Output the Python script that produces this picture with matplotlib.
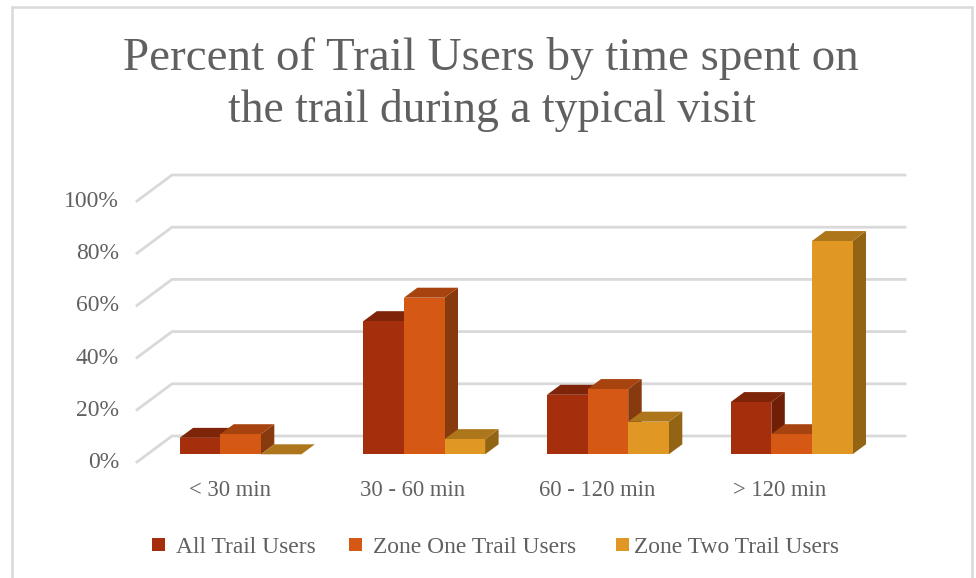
import matplotlib
matplotlib.use("Agg")
import matplotlib.pyplot as plt
from matplotlib.patches import Polygon, Rectangle

plt.rcParams['font.family'] = ['Liberation Serif', 'DejaVu Serif']

categories = ["< 30 min", "30 - 60 min", "60 - 120 min", "> 120 min"]
series_names = ["All Trail Users", "Zone One Trail Users", "Zone Two Trail Users"]
all_users = [6.3, 51, 22.8, 20]
zone_one = [7.7, 60, 25, 7.7]
zone_two = [0, 5.8, 12.5, 81.7]
yticks = [0, 20, 40, 60, 80, 100]

front_cols = ["#A52E0C", "#D55815", "#E09724"]
top_cols = ["#7E2408", "#A6430F", "#AD761B"]
side_cols = ["#6E1F06", "#873A0D", "#936414"]
text_col = "#606060"

W, H = 976, 578
fig = plt.figure(figsize=(W / 100, H / 100), dpi=100)

# whole figure is one axes, scaled so that x = category number and y = percent
px_cat = 183.7
px_pct = 2.61
x0_px = 240.5
y0_px = 454.3
ax = fig.add_axes([0, 0, 1, 1])
ax.set_xlim(-x0_px / px_cat, (W - x0_px) / px_cat)
ax.set_ylim((y0_px - H) / px_pct, y0_px / px_pct)
ax.axis("off")

def X(px):
    return (px - x0_px) / px_cat

def Y(px):
    return (y0_px - px) / px_pct

# chart frame, its bottom edge is cut off by the picture
ax.plot([X(12), X(12), X(972), X(972)], [Y(585), Y(7), Y(7), Y(585)],
        color="#D9D9D9", lw=1.8, zorder=0, solid_joinstyle="miter")

# floor and grid lines run from the front left corner to the back wall
for v in yticks:
    ax.plot([X(137), X(172), X(905)],
            [Y(462) + v, Y(436) + v, Y(436) + v],
            color="#D9D9D9", lw=2, zorder=1, solid_joinstyle="miter")
    ax.text(X(119), Y(462.5) + v, "%d%%" % v, ha="right", va="center",
            fontsize=17, color=text_col)

bar_w = 40.6 / px_cat
dx = 13.5 / px_cat
dy = 10 / px_pct
values = [all_users, zone_one, zone_two]

z = 2
for i in range(len(categories)):
    for s in range(3):
        v = values[s][i]
        left = i + (s - 1.5) * bar_w
        right = left + bar_w
        ax.add_patch(Polygon([(right, 0), (right + dx, dy), (right + dx, v + dy), (right, v)],
                             fc=side_cols[s], ec="none", zorder=z))
        ax.add_patch(Polygon([(left, v), (right, v), (right + dx, v + dy), (left + dx, v + dy)],
                             fc=top_cols[s], ec="none", zorder=z))
        ax.add_patch(Rectangle((left, 0), bar_w, v, fc=front_cols[s], ec="none", zorder=z + 0.5))
        z += 1

# x labels
label_x = [230, 413, 597, 780]
for c, lx in zip(categories, label_x):
    ax.text(X(lx), Y(491), c, ha="center", va="center", fontsize=16.3, color=text_col)

# title
ax.text(X(491), Y(59), "Percent of Trail Users by time spent on", ha="center", va="center",
        fontsize=33.8, color=text_col)
ax.text(X(492), Y(110), "the trail during a typical visit", ha="center", va="center",
        fontsize=32.8, color=text_col)

# legend
sq_x = [152, 349, 616]
txt_x = [176, 373, 634]
for s in range(3):
    ax.add_patch(Rectangle((X(sq_x[s]), Y(551)), 13 / px_cat, 13 / px_pct, fc=front_cols[s], ec="none"))
    ax.text(X(txt_x[s]), Y(547.5), series_names[s], ha="left", va="center", fontsize=16.9, color=text_col)

fig.savefig("out.png", dpi=100)
